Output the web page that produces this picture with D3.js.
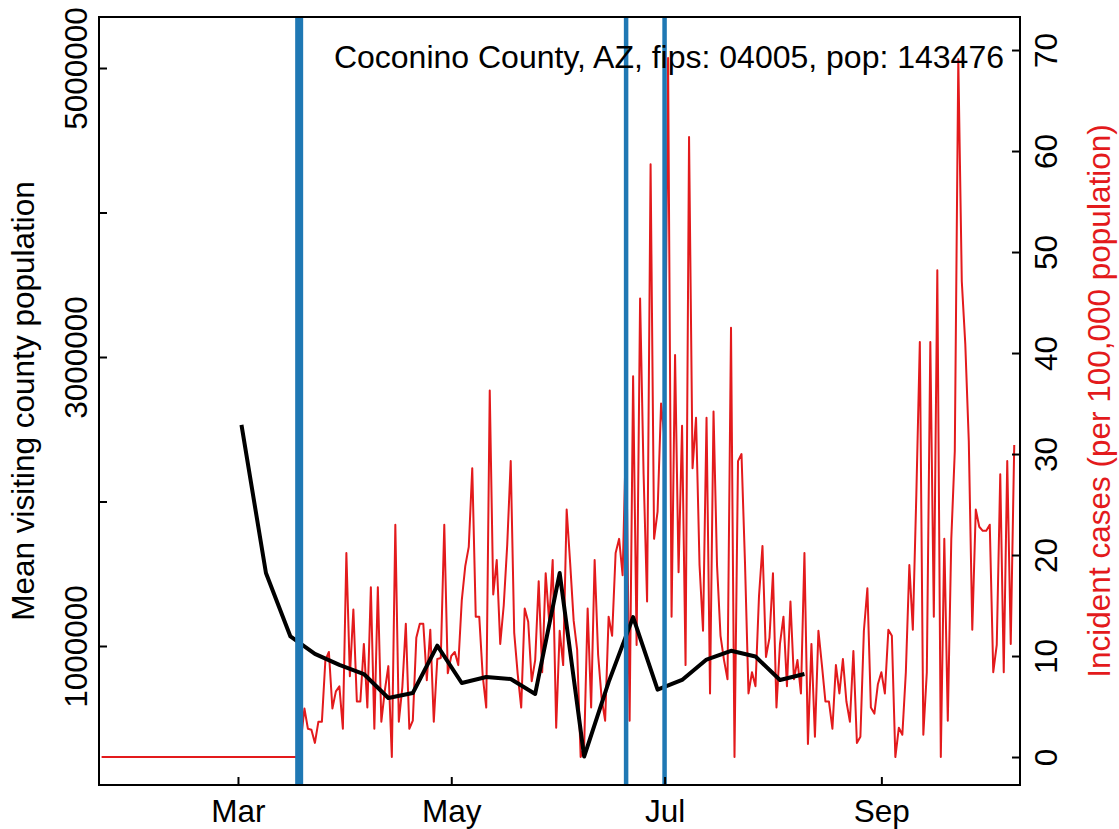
<!DOCTYPE html>
<html><head><meta charset="utf-8">
<script src="https://cdn.jsdelivr.net/npm/d3@7"></script>
<style>body{margin:0;background:#fff} svg{display:block} text{font-family:"Liberation Sans",Arial,Helvetica,sans-serif}</style>
</head><body><svg id="c" width="1119" height="829"></svg>
<script>
// ---------------- data ----------------
const title = "Coconino County, AZ, fips: 04005, pop: 143476";
const leftTitle = "Mean visiting county population";
const rightTitle = "Incident cases (per 100,000 population)";

// daily incident cases per 100,000, starting 2020-01-22
const casesStart = "2020-01-22";
const incidentCases = [
  0,0,0,0,0,0,0,0,0,0, 0,0,0,0,0,0,0,0,0,0,
  0,0,0,0,0,0,0,0,0,0, 0,0,0,0,0,0,0,0,0,0,
  0,0,0,0,0,0,0,0,0,0, 0,0,0,0,0,0,0,
  1.7, 4.8, 2.8, 2.7, 1.4, 3.5, 3.5, 9.6, 10.4, 4.8,
  6.5, 7.0, 2.8, 20.2, 8.0, 14.6, 5.5, 5.5, 11.2, 4.9,
  16.8, 2.8, 16.8, 3.5, 6.6, 9.0, 0, 23.0, 3.5, 6.9,
  13.2, 2.8, 3.6, 11.8, 13.2, 13.2, 7.6, 12.6, 3.5, 9.7,
  9.8, 23.0, 8.3, 10.0, 10.4, 9.1, 15.5, 18.9, 20.8, 28.6,
  13.9, 13.9, 8.0, 4.9, 36.3, 16.1, 19.5, 11.2, 15.0, 21.0,
  29.3, 12.3, 8.2, 4.9, 14.7, 13.4, 7.5, 9.6, 17.4, 8.4,
  18.2, 13.4, 19.5, 2.9, 12.5, 9.1, 24.5, 19.2, 13.5, 10.6,
  0, 1.0, 14.7, 4.9, 19.5, 10.1, 5.8, 3.6, 13.9, 12.0,
  20.2, 21.6, 18.0, 32.2, 3.6, 37.7, 11.1, 45.4, 28.0, 15.4,
  58.7, 21.6, 24.3, 35.0, 31.5, 69.2, 13.9, 39.8, 18.3, 32.8,
  9.1, 61.4, 28.6, 33.6, 19.0, 12.5, 33.6, 6.3, 34.2, 19.0,
  12.0, 9.6, 7.7, 42.5, 0, 29.3, 30.0, 19.2, 6.3, 8.4,
  7.0, 15.9, 20.9, 9.9, 11.8, 18.2, 4.9, 11.2, 13.9, 7.0,
  15.4, 7.7, 9.6, 6.3, 20.2, 1.3, 11.2, 2.0, 12.5, 9.1,
  5.5, 5.5, 2.8, 9.1, 6.3, 9.7, 5.5, 3.5, 10.5, 1.4,
  2.0, 12.5, 16.7, 4.9, 4.3, 7.2, 8.4, 6.3, 12.6, 12.0,
  0, 2.9, 2.2, 8.4, 19.0, 12.6, 26.0, 41.1, 2.2, 8.4,
  41.1, 13.9, 48.2, 0, 21.6, 3.6, 21.6, 30.3, 69.1, 47.1,
  40.9, 31.3, 12.6, 24.5, 22.8, 22.4, 22.4, 23.0, 8.4, 11.1,
  28.0, 8.4, 29.3, 11.2, 30.9
];

// weekly mean visiting county population, starting 2020-03-02
const mobilityStart = "2020-03-02";
const mobility = [
  2530000, 1505000, 1066000, 945000, 869000, 806000, 640000, 675000,
  1002000, 744000, 785000, 772000, 668000, 1505000, 235000, 750000,
  1200000, 698000, 765000, 906000, 967000, 927000, 765000, 806000
];

const interventionDates = ["2020-03-18", "2020-03-19", "2020-06-20", "2020-07-01"];

const xDomain = ["2020-01-21T06:06:00Z", "2020-10-10T15:32:00Z"];
const monthTicks = ["2020-03-01", "2020-05-01", "2020-07-01", "2020-09-01"];
const monthLabels = ["Mar", "May", "Jul", "Sep"];
const leftTicks = [1000000, 2000000, 3000000, 4000000, 5000000];
const leftLabels = ["1000000", "", "3000000", "", "5000000"];
const leftDomain = [38000, 5353000];
const rightTicks = [0, 10, 20, 30, 40, 50, 60, 70];
const rightDomain = [-2.77, 73.27];

// ---------------- layout ----------------
const L = 99, R = 1020, T = 17, B = 785;
const FS = 31.5;
const RED = "#e31a1c", BLUE = "#1f78b4";

const day = 864e5;
const parse = s => new Date(s.length > 10 ? s : s + "T00:00:00Z");
const cStart = parse(casesStart), mStart = parse(mobilityStart);
const casesData = incidentCases.map((v, i) => ({date: new Date(+cStart + i * day), v}));
const mobData = mobility.map((v, i) => ({date: new Date(+mStart + i * 7 * day), v}));

const x = d3.scaleUtc().domain(xDomain.map(parse)).range([L, R]);
const yL = d3.scaleLinear().domain(leftDomain).range([B, T]);
const yR = d3.scaleLinear().domain(rightDomain).range([B, T]);

const svg = d3.select("#c");
svg.append("defs").append("clipPath").attr("id", "clip")
  .append("rect").attr("x", L).attr("y", T).attr("width", R - L).attr("height", B - T);
const plot = svg.append("g").attr("clip-path", "url(#clip)");

// red incident cases
plot.append("path").datum(casesData)
  .attr("fill", "none").attr("stroke", RED).attr("stroke-width", 2).attr("stroke-linejoin", "round")
  .attr("d", d3.line().x(d => x(d.date)).y(d => yR(d.v)));

// black mobility
plot.append("path").datum(mobData)
  .attr("fill", "none").attr("stroke", "#000").attr("stroke-width", 4).attr("stroke-linejoin", "round")
  .attr("d", d3.line().x(d => x(d.date)).y(d => yL(d.v)));

// blue intervention lines
plot.selectAll("line.iv").data(interventionDates).join("line").attr("class", "iv")
  .attr("x1", d => x(parse(d))).attr("x2", d => x(parse(d)))
  .attr("y1", T).attr("y2", B)
  .attr("stroke", BLUE).attr("stroke-width", 4.5);

// axes
function styleAxis(g) {
  g.select(".domain").remove();
  g.selectAll(".tick line").attr("stroke", "#000").attr("stroke-width", 2);
  g.selectAll(".tick text").attr("fill", "#000").style("font-size", FS + "px")
    .style("font-family", '"Liberation Sans",Arial,sans-serif');
}

const gx = svg.append("g").attr("transform", `translate(0,${B})`)
  .call(d3.axisBottom(x).tickValues(monthTicks.map(parse)).tickSize(-8)
    .tickFormat((d, i) => monthLabels[i]));
styleAxis(gx);
gx.selectAll(".tick text").attr("y", 37).attr("dy", 0);

const gl = svg.append("g").attr("transform", `translate(${L},0)`)
  .call(d3.axisLeft(yL).tickValues(leftTicks).tickSize(-8)
    .tickFormat((d, i) => leftLabels[i]));
styleAxis(gl);
gl.selectAll(".tick text").attr("x", 0).attr("y", 0).attr("dy", 0)
  .attr("text-anchor", "middle").attr("transform", "translate(-12,0) rotate(-90)");

const gr = svg.append("g").attr("transform", `translate(${R},0)`)
  .call(d3.axisRight(yR).tickValues(rightTicks).tickSize(-8).tickFormat(d3.format("d")));
styleAxis(gr);
gr.selectAll(".tick text").attr("x", 0).attr("y", 0).attr("dy", 0)
  .attr("text-anchor", "middle").attr("transform", "translate(37,0) rotate(-90)");

// box
svg.append("rect").attr("x", L).attr("y", T).attr("width", R - L).attr("height", B - T)
  .attr("fill", "none").attr("stroke", "#000").attr("stroke-width", 2);

// texts
svg.append("text").attr("x", 1004).attr("y", 68).attr("text-anchor", "end")
  .style("font-size", "32px").attr("fill", "#000").text(title);
svg.append("text").attr("transform", `translate(34,${(T + B) / 2}) rotate(-90)`)
  .attr("text-anchor", "middle").style("font-size", FS + "px").attr("fill", "#000").text(leftTitle);
svg.append("text").attr("transform", `translate(1110,${(T + B) / 2}) rotate(-90)`)
  .attr("text-anchor", "middle").style("font-size", FS + "px").attr("fill", RED).text(rightTitle);
</script>
</body></html>
